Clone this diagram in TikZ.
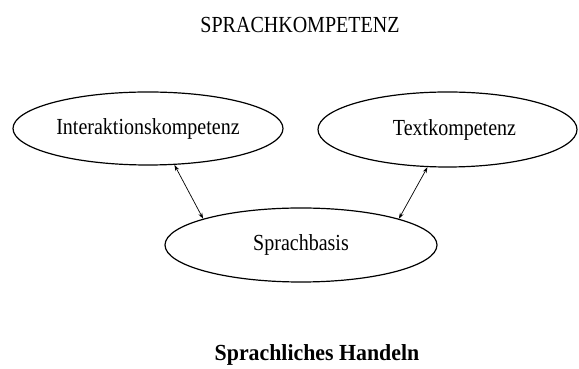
\documentclass[tikz,border=0pt]{standalone}
\usepackage{fontspec}
\setmainfont{Liberation Serif}
\newfontfamily\schmal[FakeStretch=0.87]{Liberation Serif}
\newfontfamily\breit[FakeStretch=0.95]{Liberation Serif}
\usetikzlibrary{arrows.meta, positioning, shapes.geometric}

\begin{document}
\begin{tikzpicture}[x=1pt, y=1pt,
    kompetenz/.style={ellipse, draw, line width=1.2pt, inner sep=0pt,
      font=\schmal\fontsize{23}{27}\selectfont},
    verbindung/.style={{Stealth[length=6pt,width=4pt]}-{Stealth[length=6pt,width=4pt]}, line width=0.7pt}]
  \useasboundingbox (0,0) rectangle (579,369);

  % Ueberschrift
  \node (titel) at (300,344) {\schmal\fontsize{23}{27}\selectfont SPRACHKOMPETENZ};

  % die drei Bereiche
  \node[kompetenz, minimum width=270pt, minimum height=73pt] (inter) at (148,240.5) {Interaktionskompetenz};
  \node[kompetenz, minimum width=259pt, minimum height=75pt] (text) at (447.5,239.5) {\hspace*{14pt}Textkompetenz};
  \node[kompetenz, minimum width=272pt, minimum height=74pt] (basis) at (301,124) {Sprachbasis};

  \draw[verbindung] (inter.-54) -- (basis.165);
  \draw[verbindung] (text.-118) -- (basis.15);

  % unten
  \node (handeln) at (317,14) {\breit\fontsize{23}{27}\selectfont\bfseries Sprachliches Handeln};
\end{tikzpicture}
\end{document}
